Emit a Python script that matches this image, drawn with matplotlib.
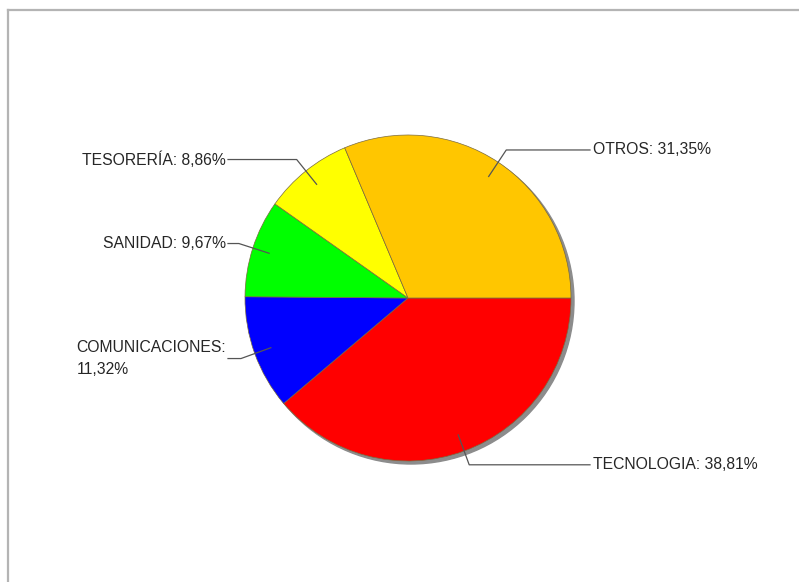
import matplotlib
matplotlib.use("Agg")
import matplotlib.pyplot as plt
from matplotlib.patches import Circle
import numpy as np

# Data (clockwise from 3 o'clock)
sectores = ["TECNOLOGIA", "COMUNICACIONES", "SANIDAD", "TESORERÍA", "OTROS"]
porcentajes = [38.81, 11.32, 9.67, 8.86, 31.35]
colores = ["#FF0000", "#0000FF", "#00FF00", "#FFFF00", "#FFC600"]
etiquetas = ["TECNOLOGIA: 38,81%", "COMUNICACIONES:\n11,32%", "SANIDAD: 9,67%",
             "TESORERÍA: 8,86%", "OTROS: 31,35%"]

# Layout (pixel coordinates, y grows downwards)
W, H = 799, 582
CX, CY, R = 408, 298, 163
LEFT_X, RIGHT_X = 226, 593

plt.rcParams['font.family'] = ['Liberation Sans', 'DejaVu Sans']

fig = plt.figure(figsize=(W / 100, H / 100), dpi=100)
ax = fig.add_axes([0, 0, 1, 1])

# shadow behind the pie
ax.add_patch(Circle((CX + 3, CY + 3), R, color="#8c8c8c", zorder=0))

# y axis is inverted, so counterclock=True reads clockwise on screen
wedges, _ = ax.pie(porcentajes, colors=colores, startangle=0, counterclock=True,
                   center=(CX, CY), radius=R,
                   wedgeprops=dict(edgecolor="#7a6a40", linewidth=0.5))

ax.set_xlim(0, W)
ax.set_ylim(H, 0)
ax.set_aspect("equal")
ax.axis("off")

for w, txt in zip(wedges, etiquetas):
    ang = np.deg2rad((w.theta1 + w.theta2) / 2)
    x0, y0 = CX + 0.895 * R * np.cos(ang), CY + 0.895 * R * np.sin(ang)
    x1, y1 = CX + 1.09 * R * np.cos(ang), CY + 1.09 * R * np.sin(ang)
    if np.cos(ang) >= 0:
        x2, ha, tx = RIGHT_X - 3, "left", RIGHT_X
    else:
        x2, ha, tx = LEFT_X + 2, "right", LEFT_X
    ax.plot([x0, x1, x2], [y0, y1, y1], color="#555555", lw=0.9, zorder=5)
    ax.text(tx, y1, txt, ha=ha, va="center", multialignment="left",
            fontsize=11.3, color="#262626", linespacing=1.6)

# frame lines (top and left only, as in the reference)
fig.add_artist(plt.Line2D([8 / W, 1], [1 - 10 / H, 1 - 10 / H],
                          color="#b4b4b4", lw=1.6))
fig.add_artist(plt.Line2D([8 / W, 8 / W], [0, 1 - 10 / H],
                          color="#b4b4b4", lw=1.6))

fig.savefig("out.png", dpi=100)
